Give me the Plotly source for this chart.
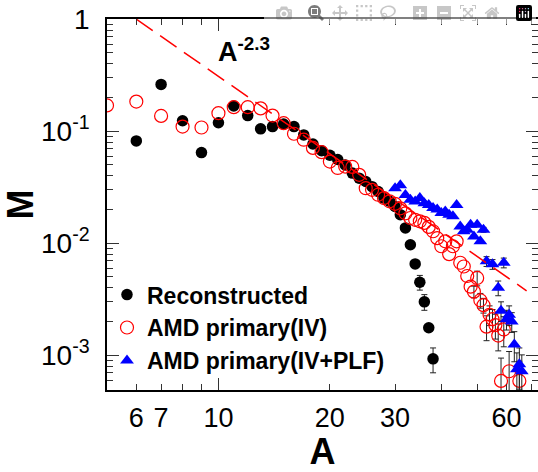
import plotly.graph_objects as go

# ---------------- data ----------------
A_rec = [6, 7, 8, 9, 10, 11, 12, 13, 14, 15, 16, 17, 18, 19, 20, 21, 22, 23, 24, 25,
         26, 27, 28, 29, 30, 31, 32, 33, 34, 35, 36, 37, 38]
M_rec = [0.082, 0.262, 0.124, 0.0645, 0.119, 0.168, 0.138, 0.105, 0.110, 0.116, 0.110,
         0.0927, 0.077, 0.067, 0.061, 0.056, 0.050, 0.0423, 0.0381, 0.0356, 0.032, 0.029,
         0.0253, 0.0237, 0.0213, 0.018, 0.0137, 0.0097, 0.00654, 0.00449, 0.0030,
         0.00176, 0.00093]
# relative errors (0 = hidden under the marker)
E_rec = [0, 0.08, 0, 0, 0, 0, 0, 0.08, 0, 0, 0, 0, 0,
         0, 0, 0, 0, 0, 0, 0, 0, 0, 0, 0, 0, 0,
         0, 0.04, 0.05, 0.15, 0.16, 0.06, 0.25]

A_iv = [5, 6, 7, 8, 9, 10, 11, 12, 13, 14, 15, 16, 17, 18, 19, 20, 21, 22, 23, 24, 25,
        26, 27, 28, 29, 30, 31, 32, 33, 34, 35, 36, 37, 38, 39, 40, 41, 42, 43, 44, 45,
        46, 47, 48, 49, 50, 51, 52, 53, 54, 55, 56, 57, 58, 59, 61, 65]
M_iv = [0.170, 0.184, 0.137, 0.110, 0.108, 0.145, 0.164, 0.164, 0.160, 0.138, 0.118,
        0.095, 0.084, 0.071, 0.065, 0.0536, 0.047, 0.0484, 0.048, 0.0408, 0.031, 0.030,
        0.0271, 0.0253, 0.0237, 0.0225, 0.0205, 0.0185, 0.0168, 0.0162, 0.0157, 0.0152,
        0.0140, 0.0128, 0.0111, 0.0094, 0.0104, 0.0080, 0.0094, 0.0104, 0.0067, 0.0062,
        0.0051, 0.0041, 0.0037, 0.0049, 0.0031, 0.0028, 0.0018, 0.0023, 0.0021, 0.00186,
        0.00150, 0.00059, 0.0017, 0.00072, 0.00059]
E_iv = [0] * 44 + [0.12, 0.15, 0.15, 0.15, 0.25, 0.20,
                   0.22, 0.25, 0.27, 0.6, 0.3, 0.5, 0.5]

A_plf = [30, 31, 32, 33, 34, 35, 36, 37, 38, 39, 40, 41, 42, 43, 44, 45, 46, 47, 48, 49,
         50, 51, 52, 53, 55, 57, 58, 59, 60, 61, 62, 63, 64, 65, 66]
M_plf = [0.031, 0.033, 0.027, 0.0245, 0.0236, 0.0253, 0.0228, 0.022, 0.0206, 0.020,
         0.0186, 0.0192, 0.018, 0.0174, 0.022, 0.0141, 0.0128, 0.0132, 0.0146, 0.0115,
         0.0146, 0.0104, 0.0132, 0.0069, 0.0065, 0.0040, 0.0025, 0.0067, 0.0021, 0.0023,
         0.0020, 0.00125, 0.00075, 0.00083, 0.00072]
E_plf = [0] * 22 + [0.05, 0.10, 0.10, 0.15, 0.2, 0.1, 0.2, 0.2, 0.2, 0.3, 0.4, 0.4, 0.4]

fit_A = [6, 68]
fit_norm = 61.7
fit_exp = -2.3
fit_M = [fit_norm * a ** fit_exp for a in fit_A]

x_tickvals = [6, 7, 10, 20, 30, 60]
x_ticktext = ["6", "7", "10", "20", "30", "60"]
y_tickvals = [1e-3, 1e-2, 1e-1, 1]
y_ticktext = ["10<sup>-3</sup>", "10<sup>-2</sup>", "10<sup>-1</sup>", "1"]

FONT = "Liberation Sans, Arial, sans-serif"


def err_trace(a, m, e):
    idx = [i for i, r in enumerate(e) if r > 0]
    vals = [m[i] * e[i] for i in idx]
    return go.Scatter(x=[a[i] for i in idx], y=[m[i] for i in idx], mode="markers",
                      marker=dict(size=1, opacity=0), showlegend=False, hoverinfo="skip",
                      error_y=dict(type="data", symmetric=False, array=vals,
                                   arrayminus=vals, color="#222222", thickness=1, width=3))


fig = go.Figure()
fig.add_trace(err_trace(A_rec, M_rec, E_rec))
fig.add_trace(go.Scatter(x=A_rec, y=M_rec, mode="markers", name="Reconstructed",
                         marker=dict(symbol="circle", size=11.5, color="black")))
fig.add_trace(err_trace(A_iv, M_iv, E_iv))
fig.add_trace(go.Scatter(x=A_iv, y=M_iv, mode="markers", name="AMD primary(IV)",
                         marker=dict(symbol="circle-open", size=13, color="#ff0000",
                                     line=dict(width=1.2, color="#ff0000"))))
fig.add_trace(err_trace(A_plf, M_plf, E_plf))
fig.add_trace(go.Scatter(x=A_plf, y=M_plf, mode="markers", name="AMD primary(IV+PLF)",
                         marker=dict(symbol="triangle-up", size=12, color="#0000ff")))
fig.add_trace(go.Scatter(x=fit_A, y=fit_M, mode="lines", showlegend=False,
                         line=dict(color="#ff0000", width=1.5, dash="20px,9px")))

minor_y = [k * 10 ** d for d in (-4, -3, -2, -1) for k in range(2, 10)]
minor_x = [8, 9, 40, 50, 70]
X_RANGE = [0.69897, 1.8633]

fig.update_layout(
    width=538, height=472,
    margin=dict(l=107, r=0, t=19, b=82),
    paper_bgcolor="white", plot_bgcolor="white",
    font=dict(family=FONT, color="black"),
    showlegend=True,
    legend=dict(x=0.0, y=0.315, xanchor="left", yanchor="top",
                bgcolor="rgba(0,0,0,0)",
                font=dict(family=FONT, size=23, color="black", weight="bold"),
                tracegroupgap=0),
    xaxis=dict(type="log", range=X_RANGE, automargin=False,
               showline=True, linecolor="black", linewidth=1.5, mirror="ticks",
               ticks="inside", ticklen=6, tickwidth=1, tickcolor="#333",
               tickvals=x_tickvals, ticktext=x_ticktext, ticklabeloverflow="allow",
               tickfont=dict(size=27, family=FONT), ticklabelstandoff=3,
               minor=dict(ticks="inside", ticklen=6, tickvals=minor_x, tickcolor="#333"),
               showgrid=False, zeroline=False,
               title=dict(text="<b>A</b>", font=dict(size=36, family=FONT), standoff=12)),
    xaxis2=dict(type="log", range=X_RANGE, overlaying="x", side="bottom",
                automargin=False, mirror="ticks",
                showline=False, ticks="inside", ticklen=12, tickwidth=1,
                tickcolor="#333", tickvals=[10], showticklabels=False,
                showgrid=False, zeroline=False),
    yaxis=dict(type="log", range=[-3.31, 0.002], automargin=False,
               showline=True, linecolor="black", linewidth=1.5, mirror="ticks",
               ticks="inside", ticklen=12, tickwidth=1, tickcolor="#333",
               tickvals=y_tickvals, ticktext=y_ticktext, ticklabeloverflow="allow",
               tickfont=dict(size=28, family=FONT), ticklabelstandoff=10,
               minor=dict(ticks="inside", ticklen=6, tickvals=minor_y, tickcolor="#333"),
               showgrid=False, zeroline=False,
               title=dict(text="<b>M</b>", font=dict(size=36, family=FONT), standoff=5)),
    annotations=[dict(text="<b>A<sup>-2.3</sup></b>", xref="paper", yref="paper",
                      x=(216 - 107) / 431, y=(390 - 69) / 371, xanchor="left",
                      yanchor="bottom", showarrow=False,
                      font=dict(size=27, family=FONT, color="black"))],
)
# invisible trace that activates the overlay axis carrying the long tick at 10
fig.add_trace(go.Scatter(x=[10], y=[1e-5], xaxis="x2", mode="markers",
                         showlegend=False, hoverinfo="skip",
                         marker=dict(size=1, color="rgba(0,0,0,0)")))

# remove the browser's default 8px body margin so the figure fills the window exactly
fig.write_html("out.html",
               post_script="document.body.style.margin='0px';"
                           "document.body.style.overflow='hidden';")
